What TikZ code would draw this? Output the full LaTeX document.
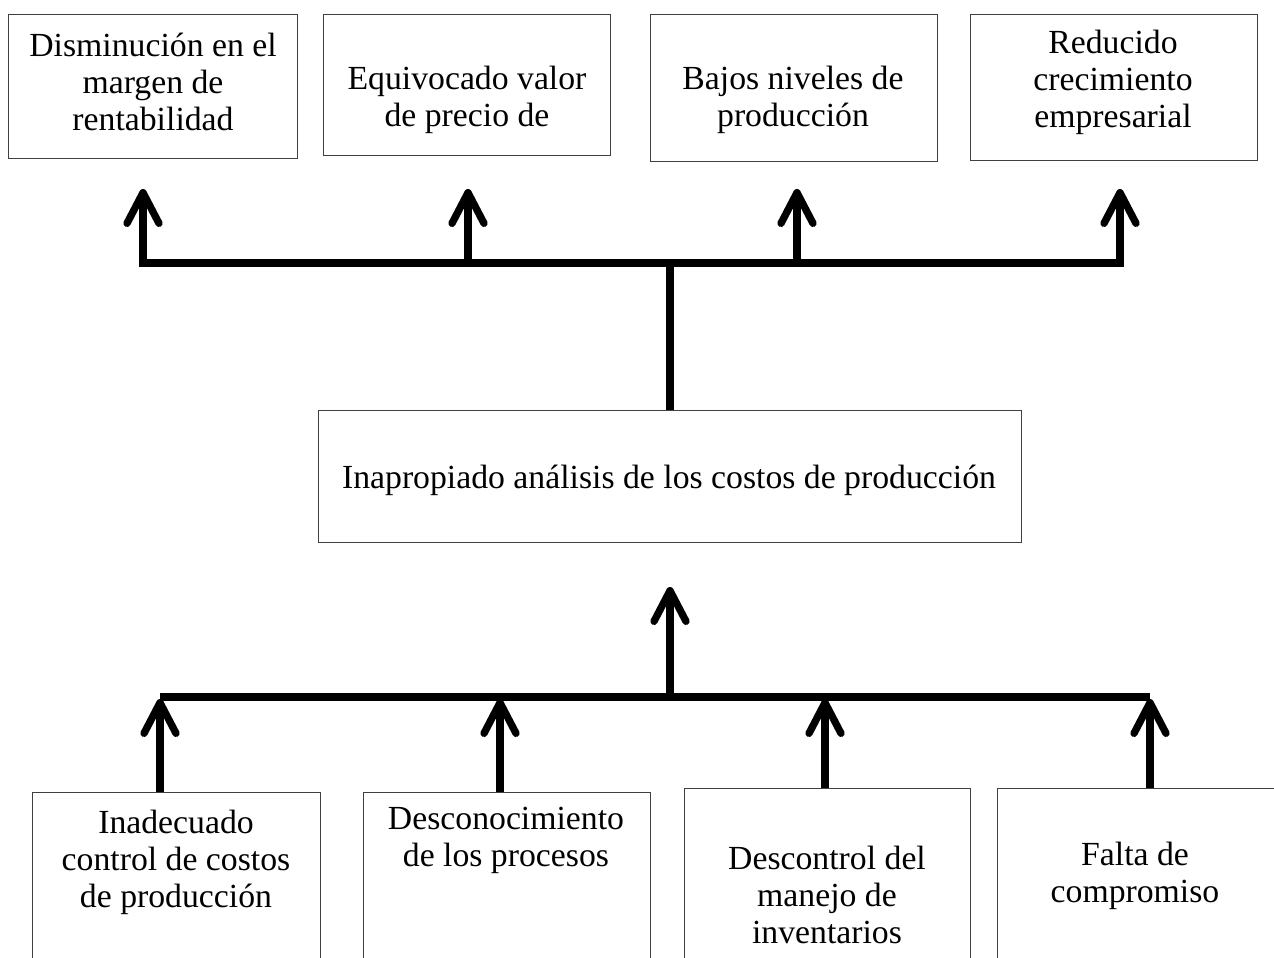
\documentclass[tikz,border=0pt]{standalone}
\usepackage{fontspec}
\setmainfont{Liberation Serif}
\usetikzlibrary{arrows.meta,positioning,calc}
\tikzset{
block/.style = {draw=black!75, line width=0.9pt, rectangle, anchor=north west, inner sep=0pt},
txt/.style   = {align=center, inner sep=0pt, font=\fontsize{25.3}{27.75}\selectfont},
tmp/.style   = {coordinate},
bar/.style   = {line width=6pt},
arr/.style   = {line width=5.5pt, -{Straight Barb[length=23pt,width=24pt,round]}}
}
\begin{document}
\begin{tikzpicture}[x=0.75pt, y=-0.75pt]
    \useasboundingbox (0,0) rectangle (1274,957);
    % efectos
    \node [block, minimum width=216.75pt, minimum height=108pt] (e1) at (8,14) {};
    \node [block, minimum width=215.25pt, minimum height=105.75pt] (e2) at (323,14) {};
    \node [block, minimum width=215.25pt, minimum height=110.25pt] (e3) at (650,14) {};
    \node [block, minimum width=215.25pt, minimum height=109.5pt] (e4) at (970,14) {};
    \node [txt] (e1t) at (153,82) {Disminución en el\\margen de\\rentabilidad};
    \node [txt] (e2t) at (467,100) {Equivocado valor\\de precio de};
    \node [txt] (e3t) at (793,100) {Bajos niveles de\\producción};
    \node [txt] (e4t) at (1113,82) {Reducido\\crecimiento\\empresarial};
    % problema
    \node [block, minimum width=527.25pt, minimum height=99pt] (core) at (318,410) {};
    \node [txt] (coret) at (669,480) {Inapropiado análisis de los costos de producción};
    % causas
    \node [block, minimum width=216pt, minimum height=156pt] (c1) at (32,792) {};
    \node [block, minimum width=215.25pt, minimum height=156pt] (c2) at (363,792) {};
    \node [block, minimum width=214.5pt, minimum height=159pt] (c3) at (684,788) {};
    \node [block, minimum width=216pt, minimum height=159pt] (c4) at (997,788) {};
    \node [txt] (c1t) at (176,862) {Inadecuado\\control de costos\\de producción};
    \node [txt] (c2t) at (506,840) {Desconocimiento\\de los procesos};
    \node [txt] (c3t) at (827,895) {Descontrol del\\manejo de\\inventarios};
    \node [txt] (c4t) at (1135,876) {Falta de\\compromiso};
    % puntos de union
    \coordinate (t1) at (143,267);
    \coordinate (t2) at (468,267);
    \coordinate (t3) at (797,267);
    \coordinate (t4) at (1120,267);
    \coordinate (tl) at (143,263);
    \coordinate (tr) at (1120,263);
    \coordinate (tc) at (670,263);
    \coordinate (p1) at (143,189);
    \coordinate (p2) at (468,189);
    \coordinate (p3) at (797,189);
    \coordinate (p4) at (1120,189);
    \coordinate (b1) at (160,699);
    \coordinate (b2) at (500,699);
    \coordinate (b3) at (825,699);
    \coordinate (b4) at (1150,699);
    \coordinate (bl) at (160,697);
    \coordinate (br) at (1150,697);
    \coordinate (bc) at (670,697);
    \coordinate (q) at (670,587);
    \draw [bar] (tl) -- (tr);
    \draw [arr] (t1) -- (p1);
    \draw [arr] (t2) -- (p2);
    \draw [arr] (t3) -- (p3);
    \draw [arr] (t4) -- (p4);
    \draw [bar] (tc) -- (tc |- core.north);
    \draw [arr] (bc) -- (q);
    \draw [bar] (bl) -- (br);
    \draw [arr] (b1 |- c1.north) -- (b1);
    \draw [arr] (b2 |- c2.north) -- (b2);
    \draw [arr] (b3 |- c3.north) -- (b3);
    \draw [arr] (b4 |- c4.north) -- (b4);
\end{tikzpicture}
\end{document}
